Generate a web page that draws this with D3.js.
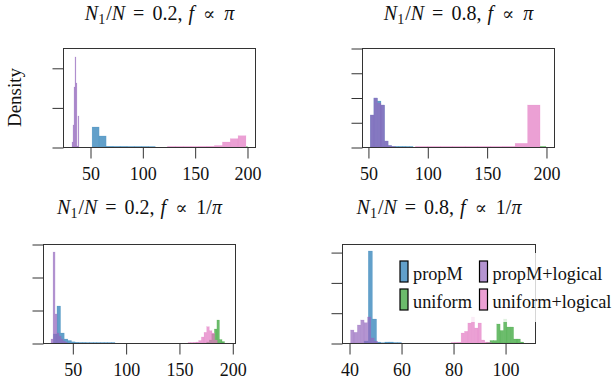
<!DOCTYPE html>
<html><head><meta charset="utf-8">
<script src="https://cdn.jsdelivr.net/npm/d3@7"></script>
<style>body{margin:0;background:#fff} svg{display:block}</style>
</head><body>
<svg id="chart" width="614" height="383"></svg>
<script>
// ---------------- data ----------------
const seriesNames = ["propM", "uniform", "propM+logical", "uniform+logical"];
const seriesColors = ["#1f77b4", "#2ca02c", "#9467bd", "#e377c2"];
const panelRatios = ["0.2", "0.8", "0.2", "0.8"];
const panelF = ["π", "π", "1/π", "1/π"];
const xTicksTop = [50, 100, 150, 200];
const xTicksP3 = [50, 100, 150, 200];
const xTicksP4 = [40, 60, 80, 100];
const yTicksP1 = [0, 0.1, 0.2];
const yTicksP2 = [0, 0.05, 0.1, 0.15, 0.2];
const yTicksP3 = [0, 0.1, 0.2, 0.3];
const yTicksP4 = [0, 0.1, 0.2, 0.3];

// histogram bins: first bin edge and bin width per series (order = seriesNames)
const p1Starts = [52, 199.5, 32.8, 124];
const p1Widths = [6.7, 1, 0.95, 7.5];
const p1PropM = [0.0505, 0.0278, 0.0020, 0.0018, 0.0018, 0.0015, 0.0015, 0.0015, 0.0013];
const p1Uniform = [0.0015];
const p1PropMLogical = [0.0126, 0.0556, 0.1515, 0.2273, 0.1616, 0.0025, 0.0783];
const p1UniformLogical = [0.0015, 0.0015, 0.0015, 0.0015, 0.0018, 0.0020, 0.0038, 0.0126, 0.0210, 0.0285];

const p2Starts = [52, 195, 52, 90];
const p2Widths = [3, 5, 3, 10.5];
const p2PropM = [0.0646, 0.0990, 0.0929, 0.0848, 0.0121, 0.0030, 0.0014, 0.0014, 0.0014, 0.0014, 0.0012, 0.0012];
const p2Uniform = [0.0012];
const p2PropMLogical = [0.0646, 0.0990, 0.0889, 0.0848, 0.0121, 0.0030, 0.0012];
const p2UniformLogical = [0.0012, 0.0012, 0.0012, 0.0012, 0.0012, 0.0012, 0.0012, 0.0014, 0.0075, 0.0848];

const p3Starts = [32.2, 176, 30, 158.5];
const p3Widths = [3.4, 2.4, 1.9, 2.5];
const p3PropM = [0.0273, 0.1121, 0.0303, 0.0121, 0.0076, 0.0036, 0.0024, 0.0018, 0.0018, 0.0015, 0.0015, 0.0015, 0.0015, 0.0015, 0.0015, 0.0015, 0.0015];
const p3Uniform = [0.0030, 0.0091, 0.0273, 0.0424, 0.0697, 0.0106, 0.0045];
const p3PropMLogical = [0.0121, 0.2757, 0.0879, 0.0303, 0.0212, 0.0121, 0.0061, 0.0030];
const p3UniformLogical = [0.0015, 0.0015, 0.0021, 0.0030, 0.0076, 0.0182, 0.0324, 0.0494, 0.0373, 0.0303, 0.0091];

const p4Starts = [45.8, 92.9, 40.6, 79.2];
const p4Widths = [1.6, 1.3, 1.3, 1.3];
const p4PropM = [0.0066, 0.3036, 0.0792, 0.0033, 0.0010, 0.0033, 0.0033, 0.0017, 0.0017];
const p4Uniform = [0.0017, 0.0083, 0.0083, 0.0627, 0.0413, 0.0792, 0.0528, 0.0528, 0.0132, 0.0132, 0.0033];
const p4PropMLogical = [0.0429, 0.0353, 0.0594, 0.0759, 0.0670, 0.0858, 0.0165, 0.0066];
const p4UniformLogical = [0.0017, 0.0023, 0.0026, 0.0330, 0.0386, 0.0660, 0.0858, 0.0495, 0.0660, 0.0099, 0.0033, 0.0017];

// ---------------- layout ----------------
const FONT = "'Liberation Serif', 'DejaVu Serif', serif";
const panels = [
  {box: [63, 256, 48, 147], xDom: [24.2, 208.6], yMax: 0.25, yTicks: yTicksP1, xTicks: xTicksTop,
   starts: p1Starts, widths: p1Widths, vals: [p1PropM, p1Uniform, p1PropMLogical, p1UniformLogical], titleY: 19.5},
  {box: [362, 555, 48, 147], xDom: [45, 207.6], yMax: 0.2, yTicks: yTicksP2, xTicks: xTicksTop,
   starts: p2Starts, widths: p2Widths, vals: [p2PropM, p2Uniform, p2PropMLogical, p2UniformLogical], titleY: 19.5},
  {box: [43, 236, 244, 343], xDom: [22.5, 203.5], yMax: 0.3, yTicks: yTicksP3, xTicks: xTicksP3,
   starts: p3Starts, widths: p3Widths, vals: [p3PropM, p3Uniform, p3PropMLogical, p3UniformLogical], titleY: 214},
  {box: [342, 536, 244, 343], xDom: [37.3, 111.9], yMax: 0.3267, yTicks: yTicksP4, xTicks: xTicksP4,
   starts: p4Starts, widths: p4Widths, vals: [p4PropM, p4Uniform, p4PropMLogical, p4UniformLogical], titleY: 214}
];

const svg = d3.select("#chart");
svg.append("rect").attr("width", 614).attr("height", 383).attr("fill", "#fff");

panels.forEach((p, pi) => {
  const [x0, x1, y0, y1] = p.box;
  const x = d3.scaleLinear().domain(p.xDom).range([x0, x1]);
  const y = d3.scaleLinear().domain([0, p.yMax]).range([y1, y0]);
  const g = svg.append("g");

  // bars
  seriesNames.forEach((name, si) => {
    const bins = p.vals[si].map((v, i) => ({a: p.starts[si] + i * p.widths[si], b: p.starts[si] + (i + 1) * p.widths[si], v}));
    g.append("g").selectAll("rect").data(bins).join("rect")
      .attr("x", d => x(d.a))
      .attr("width", d => x(d.b) - x(d.a))
      .attr("y", d => y(d.v))
      .attr("height", d => y(0) - y(d.v))
      .attr("fill", seriesColors[si])
      .attr("fill-opacity", 0.7)
      .attr("stroke", seriesColors[si])
      .attr("stroke-opacity", 0.35)
      .attr("stroke-width", 0.4);
  });

  // frame
  g.append("rect").attr("x", x0 + 0.5).attr("y", y0 + 0.5)
    .attr("width", x1 - x0 - 1).attr("height", y1 - y0)
    .attr("fill", "none").attr("stroke", "#333").attr("stroke-width", 1);

  // y axis ticks
  const ya = g.append("g").attr("transform", `translate(${x0 + 0.5},0.5)`)
    .call(d3.axisLeft(y).tickValues(p.yTicks).tickSize(11).tickFormat(""));
  ya.select(".domain").remove();
  ya.selectAll("line").attr("stroke", "#333");

  // x axis
  const xa = g.append("g").attr("transform", `translate(0.5,${y1 + 0.5})`)
    .call(d3.axisBottom(x).tickValues(p.xTicks).tickSize(11).tickPadding(9));
  xa.select(".domain").remove();
  xa.selectAll("line").attr("stroke", "#333");
  xa.selectAll("text").attr("font-family", FONT).attr("font-size", 18).attr("fill", "#111");

  // title (centred over the frame using its measured box)
  const cx = (x0 + x1) / 2;
  const t = svg.append("text").attr("x", 0).attr("y", p.titleY)
    .attr("text-anchor", "start").attr("font-family", FONT).attr("font-size", 20).attr("fill", "#111");
  t.append("tspan").attr("font-style", "italic").text("N");
  t.append("tspan").attr("font-size", 14).attr("dy", 4).text("1");
  t.append("tspan").attr("dy", -4).attr("dx", 1).text("/");
  t.append("tspan").attr("font-style", "italic").text("N");
  t.append("tspan").attr("dx", 8).text("=");
  t.append("tspan").attr("dx", 8).text(panelRatios[pi] + ",");
  t.append("tspan").attr("dx", 6).attr("font-style", "italic").text("f");
  t.append("tspan").attr("dx", 9).attr("font-family", "'DejaVu Serif', serif").attr("font-size", 18).text("∝");
  const fparts = panelF[pi].split("/");
  if (fparts.length === 2) {
    t.append("tspan").attr("dx", 9).text(fparts[0] + "/");
    t.append("tspan").attr("font-style", "italic").text(fparts[1]);
  } else {
    t.append("tspan").attr("dx", 9).attr("font-style", "italic").text(fparts[0]);
  }
  const bb = t.node().getBBox();
  t.attr("x", cx - bb.width / 2 - bb.x);
});

// y label
svg.append("text").attr("transform", "translate(21,97.5) rotate(-90)")
  .attr("text-anchor", "middle").attr("font-family", FONT).attr("font-size", 19).attr("fill", "#111")
  .text("Density");

// legend (in panel 4)
const lg = svg.append("g");
lg.append("rect").attr("x", 393).attr("y", 253).attr("width", 230).attr("height", 69)
  .attr("fill", "#fff").attr("fill-opacity", 0.8);
const legendX = [400, 479.5];
const legendY = [261, 289];
const order = [0, 2, 1, 3];
order.forEach((si, k) => {
  const col = k % 2;
  const row = Math.floor(k / 2);
  lg.append("rect").attr("x", legendX[col]).attr("y", legendY[row]).attr("width", 8).attr("height", 21)
    .attr("fill", seriesColors[si]).attr("fill-opacity", 0.7)
    .attr("stroke", "#000").attr("stroke-width", 1.2);
  lg.append("text").attr("x", legendX[col] + 13).attr("y", legendY[row] + 18.5)
    .attr("font-family", FONT).attr("font-size", 18.3).attr("fill", "#111")
    .text(seriesNames[si]);
});
</script>
</body></html>
